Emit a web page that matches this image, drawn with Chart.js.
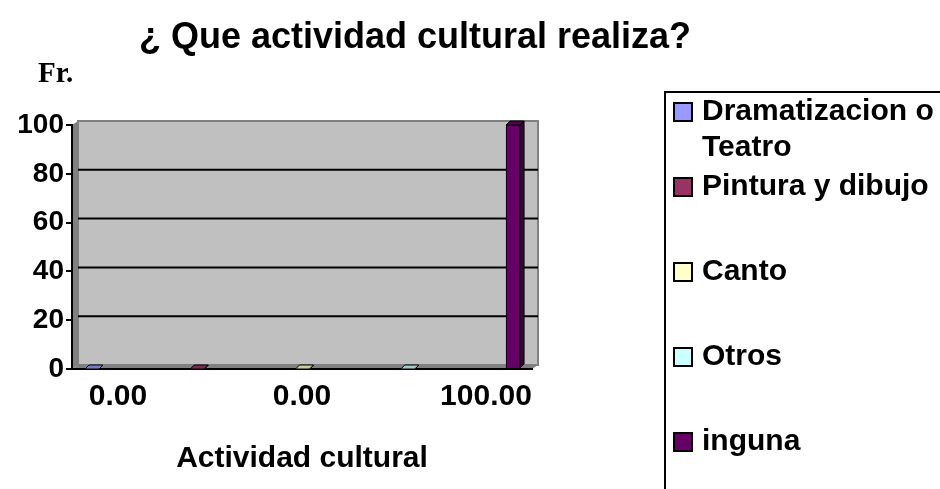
<!DOCTYPE html>
<html>
<head>
<meta charset="utf-8">
<script src="https://cdn.jsdelivr.net/npm/chart.js@4.4.1/dist/chart.umd.min.js"></script>
<style>
  html, body { margin: 0; padding: 0; background: #fff; }
  #wrap { width: 940px; height: 489px; position: relative; }
</style>
</head>
<body>
<div id="wrap"><canvas id="chart"></canvas></div>
<script>
// chart data
const seriesNames = [["Dramatizacion o", "Teatro"], "Pintura y dibujo", "Canto", "Otros", "inguna"];
const seriesValues = [0, 0, 0, 0, 100];
const seriesColors = ["#9999FF", "#993366", "#FFFFCC", "#CCFFFF", "#660066"];
const xTickLabels = ["0.00", "0.00", "100.00"];
const yMin = 0;
const yMax = 100;
const yStep = 20;

const chartTitle = "¿ Que actividad cultural realiza?";
const yAxisTitle = "Fr.";
const xAxisTitle = "Actividad cultural";

const FONT = "'Liberation Sans', Arial, sans-serif";
const DEPTH = { x: 6, y: 4 };
const BAR_DEPTH = 4;

function shade(hex, f) {
    const n = parseInt(hex.slice(1), 16);
    const r = Math.round(((n >> 16) & 255) * f);
    const g = Math.round(((n >> 8) & 255) * f);
    const b = Math.round((n & 255) * f);
    return "rgb(" + r + "," + g + "," + b + ")";
}

// back wall, side wall and floor of the excel style 3d plot
const wallsPlugin = {
    id: "walls",
    beforeDraw(chart) {
        const { ctx, chartArea: a, scales } = chart;
        const dx = DEPTH.x, dy = DEPTH.y;
        ctx.save();

        // left wall
        ctx.fillStyle = "#808080";
        ctx.beginPath();
        ctx.moveTo(a.left, a.top);
        ctx.lineTo(a.left + dx, a.top - dy);
        ctx.lineTo(a.left + dx, a.bottom - dy);
        ctx.lineTo(a.left, a.bottom);
        ctx.closePath();
        ctx.fill();

        // floor
        ctx.beginPath();
        ctx.moveTo(a.left, a.bottom);
        ctx.lineTo(a.left + dx, a.bottom - dy);
        ctx.lineTo(a.right + dx, a.bottom - dy);
        ctx.lineTo(a.right, a.bottom);
        ctx.closePath();
        ctx.fill();

        // back wall
        ctx.fillStyle = "#C0C0C0";
        ctx.fillRect(a.left + dx, a.top - dy, a.right - a.left, a.bottom - a.top);
        ctx.strokeStyle = "#808080";
        ctx.lineWidth = 2;
        ctx.strokeRect(a.left + dx, a.top - dy, a.right - a.left, a.bottom - a.top);

        // gridlines on the back wall
        ctx.strokeStyle = "#000";
        ctx.lineWidth = 2;
        for (let v = yMin + yStep; v < yMax; v += yStep) {
            const y = scales.y.getPixelForValue(v) - dy;
            ctx.beginPath();
            ctx.moveTo(a.left + dx, y);
            ctx.lineTo(a.right + dx, y);
            ctx.stroke();
        }
        ctx.restore();
    }
};

// top and side faces of each bar
const barDepthPlugin = {
    id: "barDepth",
    afterDatasetsDraw(chart) {
        const ctx = chart.ctx;
        const d = BAR_DEPTH;
        ctx.save();
        ctx.strokeStyle = "#000";
        ctx.lineWidth = 1;
        chart.data.datasets.forEach((ds, i) => {
            chart.getDatasetMeta(i).data.forEach(bar => {
                const x0 = bar.x - bar.width / 2;
                const x1 = bar.x + bar.width / 2;
                const y = bar.y;
                const base = bar.base;

                ctx.fillStyle = shade(ds.backgroundColor, 0.6);
                ctx.beginPath();
                ctx.moveTo(x1, y);
                ctx.lineTo(x1 + d, y - d);
                ctx.lineTo(x1 + d, base - d);
                ctx.lineTo(x1, base);
                ctx.closePath();
                ctx.fill();
                ctx.stroke();

                ctx.fillStyle = shade(ds.backgroundColor, 0.8);
                ctx.beginPath();
                ctx.moveTo(x0, y);
                ctx.lineTo(x1, y);
                ctx.lineTo(x1 + d, y - d);
                ctx.lineTo(x0 + d, y - d);
                ctx.closePath();
                ctx.fill();
                ctx.stroke();
            });
        });
        ctx.restore();
    }
};

// title, "Fr." and the boxed legend on the right
const textPlugin = {
    id: "texts",
    afterDraw(chart) {
        const ctx = chart.ctx;
        ctx.save();
        ctx.fillStyle = "#000";
        ctx.textBaseline = "middle";

        ctx.textAlign = "center";
        ctx.font = "bold 36px " + FONT;
        ctx.fillText(chartTitle, 415, 38);

        ctx.textAlign = "left";
        ctx.font = "bold 29px 'Liberation Serif', 'Times New Roman', serif";
        ctx.fillText(yAxisTitle, 38, 75);

        // legend box (runs off the canvas like the original)
        ctx.strokeStyle = "#000";
        ctx.lineWidth = 2;
        ctx.strokeRect(665, 92, 400, 500);

        ctx.font = "bold 30px " + FONT;
        chart.data.datasets.forEach((ds, i) => {
            const lines = Array.isArray(ds.label) ? ds.label : [ds.label];
            const y = i === 0 ? 112 : 187 + (i - 1) * 85;
            ctx.fillStyle = ds.backgroundColor;
            ctx.fillRect(674, y - 9, 18, 18);
            ctx.strokeStyle = "#000";
            ctx.lineWidth = 2;
            ctx.strokeRect(674, y - 9, 18, 18);
            ctx.fillStyle = "#000";
            lines.forEach((t, k) => ctx.fillText(t, 702, y + k * 36));
        });
        ctx.restore();
    }
};

const datasets = seriesNames.map((name, i) => ({
    label: name,
    data: [{ x: i, y: seriesValues[i] }],
    xAxisID: "xb",
    yAxisID: "y",
    backgroundColor: seriesColors[i],
    borderColor: "#000",
    borderWidth: 1,
    barThickness: 14,
    grouped: false
}));

const axisFont = { family: FONT, size: 30, weight: "bold" };

new Chart(document.getElementById("chart"), {
    type: "bar",
    data: { datasets },
    plugins: [wallsPlugin, barDepthPlugin, textPlugin],
    options: {
        responsive: true,
        maintainAspectRatio: false,
        animation: false,
        layout: { padding: { top: 125, right: 408, bottom: 0, left: 0 } },
        plugins: {
            legend: { display: false },
            tooltip: { enabled: false }
        },
        scales: {
            xb: {
                type: "linear",
                display: false,
                offset: false,
                min: -0.19,
                max: 4.18
            },
            xl: {
                type: "linear",
                position: "bottom",
                offset: false,
                min: -0.25,
                max: 2.25,
                afterBuildTicks: s => { s.ticks = xTickLabels.map((t, i) => ({ value: i })); },
                grid: { display: false },
                border: { display: true, color: "#000", width: 2 },
                ticks: {
                    autoSkip: false,
                    maxRotation: 0,
                    color: "#000",
                    font: axisFont,
                    padding: 2,
                    callback: v => xTickLabels[v]
                },
                title: {
                    display: true,
                    text: xAxisTitle,
                    color: "#000",
                    font: axisFont,
                    padding: { top: 0, bottom: 12 }
                },
                afterFit: s => { s.height = 120; }
            },
            y: {
                type: "linear",
                min: yMin,
                max: yMax,
                ticks: { stepSize: yStep, color: "#000", font: { family: FONT, size: 28, weight: "bold" }, padding: 2 },
                grid: { drawOnChartArea: false, drawTicks: true, tickLength: 6, color: "#000", lineWidth: 2 },
                border: { display: true, color: "#000", width: 2 },
                afterFit: s => { s.width = 72; }
            }
        }
    }
});
</script>
</body>
</html>
